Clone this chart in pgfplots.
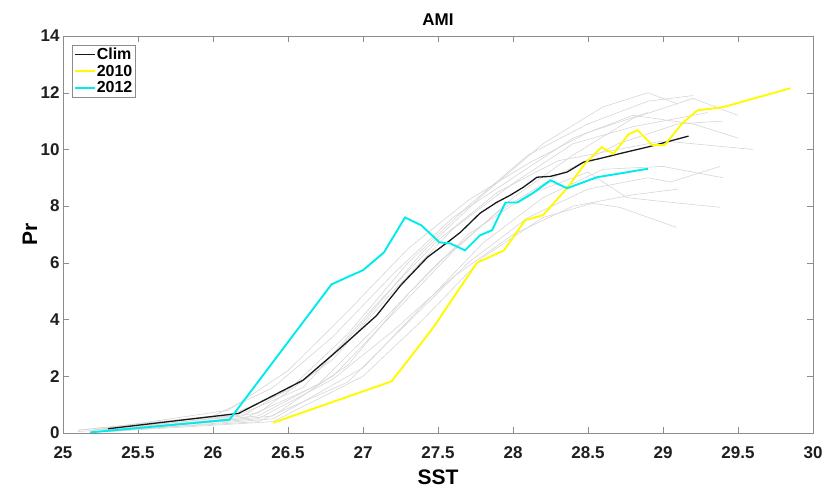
\documentclass[border=0pt]{standalone}
\usepackage{pgfplots}
\pgfplotsset{compat=1.18}
\usepackage{fontspec}
\setmainfont{Liberation Sans}
\definecolor{cyanline}{RGB}{0,235,235}
\definecolor{yellowline}{RGB}{255,250,0}
\definecolor{axgray}{RGB}{140,140,140}
\definecolor{faintgray}{RGB}{214,214,214}
\begin{document}
\begin{tikzpicture}
\useasboundingbox (-63pt,-56pt) rectangle (764pt,433pt);
\begin{axis}[
  scale only axis, width=750pt, height=397pt,
  xmin=25, xmax=30, ymin=0, ymax=14,
  xtick={25,25.5,26,26.5,27,27.5,28,28.5,29,29.5,30},
  ytick={0,2,4,6,8,10,12,14},
  xticklabels={25,25.5,26,26.5,27,27.5,28,28.5,29,29.5,30},
  tick align=inside, major tick length=6pt,
  axis line style={axgray}, tick style={axgray},
  /pgf/number format/assume math mode=true,
  ticklabel style={font=\bfseries\fontsize{17}{19}\selectfont, text=black!88},
  xticklabel style={anchor=center, yshift=-20pt},
  title={\bfseries\fontsize{17}{19}\selectfont AMI},
  title style={at={(axis description cs:0.5,1)}, anchor=center, yshift=10pt},
  xlabel={SST}, ylabel={Pr},
  xlabel style={font=\bfseries\fontsize{21}{24}\selectfont, at={(axis description cs:0.5,0)}, anchor=center, yshift=-44pt},
  ylabel style={font=\bfseries\fontsize{21}{24}\selectfont, at={(axis description cs:0,0.5)}, anchor=center, yshift=33pt},
  legend style={at={(axis description cs:0,1)}, anchor=north west, xshift=9pt, yshift=-9pt,
    font=\bfseries\fontsize{16}{18}\selectfont, draw=axgray, inner sep=1.5pt,
    nodes={inner sep=1.2pt}, row sep=1.5pt},
  legend cell align=left,
  legend image code/.code={\draw[#1] (0pt,0pt) -- (20pt,0pt);},
]
% faint individual years
\addplot[faintgray, line width=0.6pt, forget plot] coordinates {(25.1,0.1)(26.1,0.6)(26.5,1.5)(26.9,3.5)(27.3,6.0)(27.7,8.0)(28.1,9.8)(28.5,10.9)(28.9,11.7)(29.2,11.9)};
\addplot[faintgray, line width=0.6pt, forget plot] coordinates {(25.2,0.1)(26.2,0.7)(26.6,1.6)(27.0,3.9)(27.4,6.4)(27.8,8.4)(28.2,10.2)(28.6,11.5)(28.9,12.0)(29.1,11.6)};
\addplot[faintgray, line width=0.6pt, forget plot] coordinates {(25.1,0.05)(26.2,0.5)(26.7,1.7)(27.1,3.8)(27.5,6.0)(27.9,7.8)(28.3,9.1)(28.7,10.2)(29.1,10.9)(29.4,11.0)};
\addplot[faintgray, line width=0.6pt, forget plot] coordinates {(25.3,0.1)(26.3,0.6)(26.8,2.0)(27.2,4.2)(27.6,6.4)(28.0,8.3)(28.4,9.8)(28.8,11.1)(29.2,11.8)(29.5,11.2)};
\addplot[faintgray, line width=0.6pt, forget plot] coordinates {(25.2,0.05)(26.3,0.4)(26.9,1.8)(27.3,3.9)(27.7,6.0)(28.1,7.6)(28.5,8.6)(28.9,9.0)(29.05,8.85)(29.38,9.4)};
\addplot[faintgray, line width=0.6pt, forget plot] coordinates {(25.4,0.1)(26.4,0.6)(26.9,2.4)(27.3,4.9)(27.7,7.0)(28.1,8.4)(28.5,9.2)(28.76,8.3)(28.93,8.2)(29.38,7.96)};
\addplot[faintgray, line width=0.6pt, forget plot] coordinates {(25.2,0.1)(26.1,0.8)(26.5,2.2)(26.9,4.3)(27.3,6.5)(27.7,8.2)(28.1,9.5)(28.5,10.6)(28.9,11.3)};
\addplot[faintgray, line width=0.6pt, forget plot] coordinates {(25.3,0.05)(26.4,0.5)(27.0,2.3)(27.4,4.5)(27.8,6.7)(28.2,8.3)(28.6,9.3)(29.0,9.4)(29.4,9.0)};
\addplot[faintgray, line width=0.6pt, forget plot] coordinates {(25.3,0.05)(26.4,0.4)(27.0,2.0)(27.4,4.0)(27.8,6.2)(28.2,7.6)(28.53,8.1)(28.71,7.96)(29.09,7.25)};
\addplot[faintgray, line width=0.6pt, forget plot] coordinates {(25.1,0.1)(26.0,0.6)(26.4,1.6)(26.8,3.4)(27.2,5.6)(27.6,7.6)(28.0,9.0)(28.4,10.4)(28.8,11.2)(29.2,10.9)(29.5,10.4)};
\addplot[faintgray, line width=0.6pt, forget plot] coordinates {(25.2,0.1)(26.2,0.6)(26.7,2.2)(27.1,4.6)(27.5,6.8)(27.9,8.5)(28.3,9.6)(28.7,10.0)(29.0,10.3)(29.6,10.0)};
\addplot[faintgray, line width=0.6pt, forget plot] coordinates {(25.3,0.1)(26.3,0.7)(26.8,2.6)(27.2,5.0)(27.6,7.2)(28.0,8.8)(28.4,10.2)(28.8,10.8)(29.3,11.3)};
\addplot[faintgray, line width=0.6pt, forget plot] coordinates {(25.2,0.05)(26.3,0.5)(26.8,1.9)(27.2,3.6)(27.6,5.5)(28.0,7.0)(28.4,8.0)(28.8,8.4)(29.1,8.6)};
% highlighted series
\addplot[black!90, line width=1.3pt] coordinates {(25.3,0.15)(26.17,0.69)(26.6,1.86)(26.85,3.0)(27.09,4.14)(27.25,5.2)(27.43,6.2)(27.57,6.75)(27.65,7.08)(27.78,7.75)(27.89,8.13)(27.98,8.38)(28.07,8.67)(28.16,9.02)(28.25,9.05)(28.36,9.2)(28.47,9.55)(28.58,9.68)(28.71,9.85)(28.91,10.1)(29.17,10.47)};
\addlegendentry{Clim}
\addplot[yellowline, line width=1.9pt] coordinates {(26.4,0.36)(27.19,1.82)(27.31,2.63)(27.47,3.73)(27.58,4.6)(27.76,6.0)(27.94,6.44)(28.08,7.5)(28.2,7.68)(28.36,8.63)(28.48,9.5)(28.59,10.08)(28.67,9.85)(28.77,10.53)(28.83,10.68)(28.93,10.15)(29.01,10.15)(29.13,10.93)(29.23,11.38)(29.4,11.49)(29.85,12.16)};
\addlegendentry{2010}
\addplot[cyanline, line width=1.9pt] coordinates {(25.18,0.02)(26.11,0.47)(26.79,5.24)(26.91,5.53)(27.0,5.74)(27.14,6.37)(27.28,7.6)(27.39,7.32)(27.51,6.72)(27.58,6.69)(27.68,6.44)(27.78,6.97)(27.86,7.15)(27.95,8.13)(28.03,8.13)(28.13,8.45)(28.25,8.91)(28.36,8.63)(28.56,9.02)(28.71,9.15)(28.9,9.32)};
\addlegendentry{2012}
\end{axis}
\end{tikzpicture}
\end{document}
